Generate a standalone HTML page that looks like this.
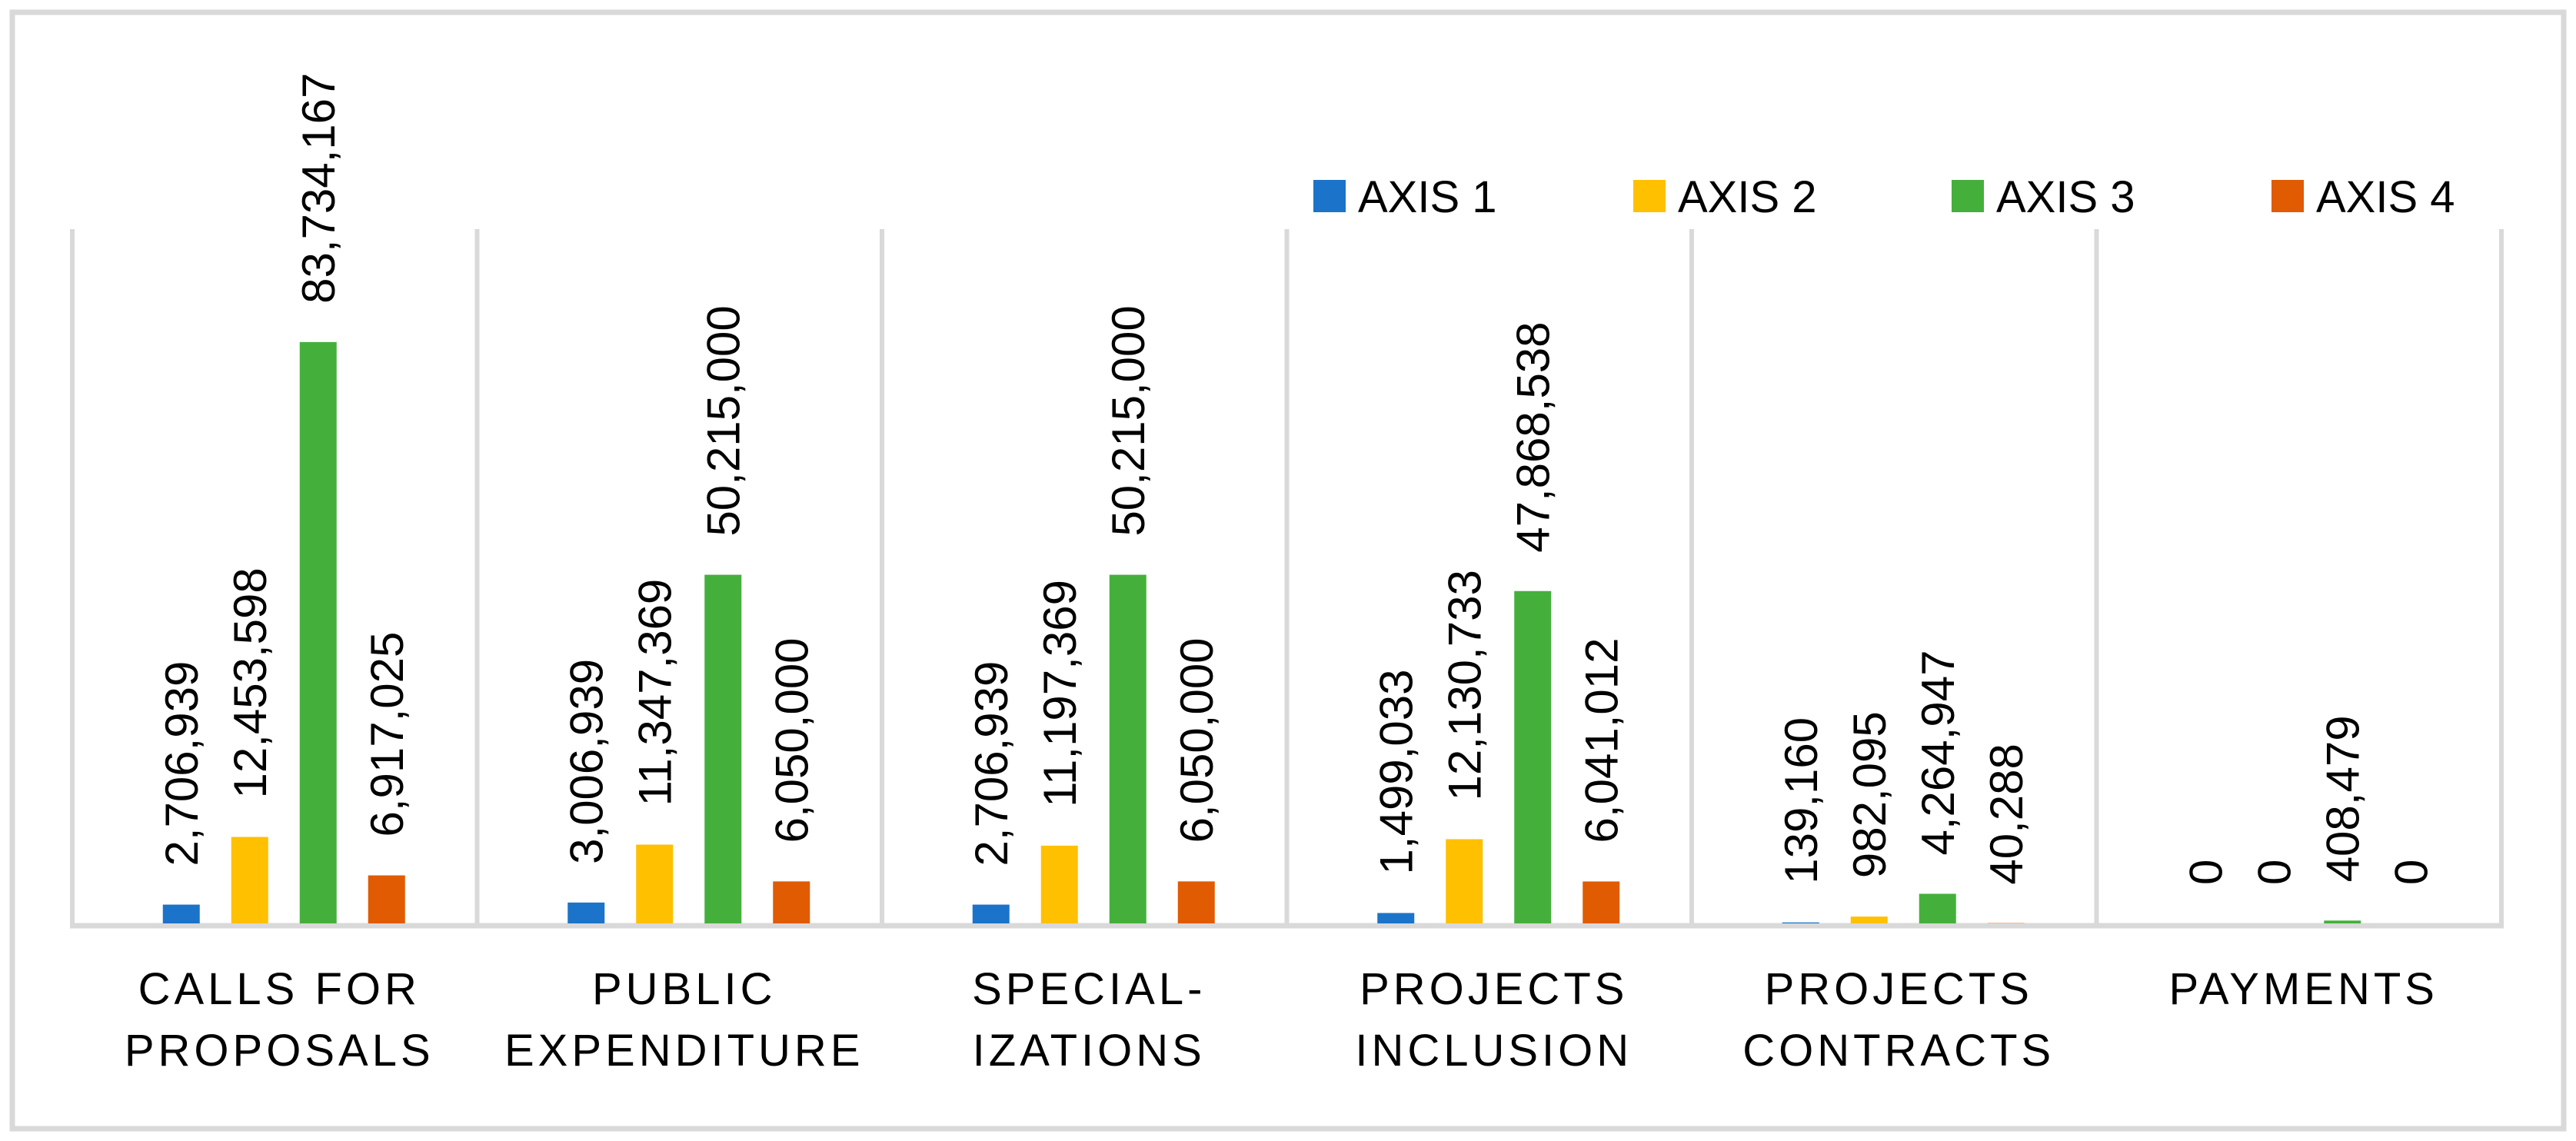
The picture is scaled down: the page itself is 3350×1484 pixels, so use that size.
<!DOCTYPE html>
<html><head><meta charset="utf-8"><style>
html,body{margin:0;padding:0;background:#fff;}
svg{display:block;font-family:"Liberation Sans",sans-serif;}
</style></head><body>
<svg id="chart" width="3350" height="1484" viewBox="0 0 3350 1484" xmlns="http://www.w3.org/2000/svg">
<rect x="16" y="16" width="3318" height="1452" fill="#fff" stroke="#d9d9d9" stroke-width="7"/>
<g id="grid"></g><g id="bars"></g><g id="labels"></g><g id="cats"></g>
<g>
<rect x="1708" y="234" width="42" height="42" fill="#1b74c9"/>
<text x="1766" y="276" font-size="58">AXIS 1</text>
<rect x="2124" y="234" width="42" height="42" fill="#ffc000"/>
<text x="2182" y="276" font-size="58">AXIS 2</text>
<rect x="2538" y="234" width="42" height="42" fill="#44b03b"/>
<text x="2596" y="276" font-size="58">AXIS 3</text>
<rect x="2954" y="234" width="42" height="42" fill="#e05b02"/>
<text x="3012" y="276" font-size="58">AXIS 4</text>
</g>
</svg>
<script>
const categories = [["CALLS FOR","PROPOSALS"],["PUBLIC","EXPENDITURE"],["SPECIAL-","IZATIONS"],["PROJECTS","INCLUSION"],["PROJECTS","CONTRACTS"],["PAYMENTS"]];
const axis1 = [2706939, 3006939, 2706939, 1499033, 139160, 0];
const axis2 = [12453598, 11347369, 11197369, 12130733, 982095, 0];
const axis3 = [83734167, 50215000, 50215000, 47868538, 4264947, 408479];
const axis4 = [6917025, 6050000, 6050000, 6041012, 40288, 0];
const seriesNames = ["axis-1","axis-2","axis-3","axis-4"];
const yMax = 100000000;

const series = [axis1, axis2, axis3, axis4];
const colors = ["#1b74c9","#ffc000","#44b03b","#e05b02"];
const NS = "http://www.w3.org/2000/svg";
const plotLeft = 94, catStep = 526.5, base = 1201, plotTop = 298;
const barW = 48, barStep = 89;
function xCat(i){ return plotLeft + catStep*i; }
function yVal(v){ return base - (v/yMax)*(base-plotTop); }
function mk(tag, attrs, parent){ const e=document.createElementNS(NS,tag); for(const k in attrs) e.setAttribute(k,attrs[k]); parent.appendChild(e); return e; }
const grid=document.getElementById('grid'), bars=document.getElementById('bars'), labels=document.getElementById('labels'), cats=document.getElementById('cats');
for(let i=0;i<=categories.length;i++){
  const l=mk('line',{x1:xCat(i),x2:xCat(i),y1:plotTop,y2:base+3,stroke:'#d9d9d9','stroke-width':6},grid);
  
  
}
const ax=mk('line',{x1:plotLeft-3,x2:xCat(categories.length)+3,y1:base+3,y2:base+3,stroke:'#d9d9d9','stroke-width':7},grid);


categories.forEach((c,i)=>{
  const center = xCat(i)+catStep/2+12;
  series.forEach((s,j)=>{
    const cx = center + (j-1.5)*barStep;
    const y = yVal(s[i]);
    const r=mk('rect',{x:cx-barW/2,y:y,width:barW,height:Math.max(0,base-y),fill:colors[j]},bars);
    
    
    const t=mk('text',{x:0,y:0,'font-size':60,transform:`translate(${cx+21},${y-50}) rotate(-90)`},labels);
    t.textContent = s[i].toLocaleString('en-US');
    
    
  });
  const cc = xCat(i)+catStep/2+6;
  c.forEach((line,k)=>{
    const t=mk('text',{x:cc,y:1306+k*80,'font-size':58,'text-anchor':'middle','letter-spacing':5},cats);
    t.textContent=line;
    
    
  });
});
</script>
</body></html>
